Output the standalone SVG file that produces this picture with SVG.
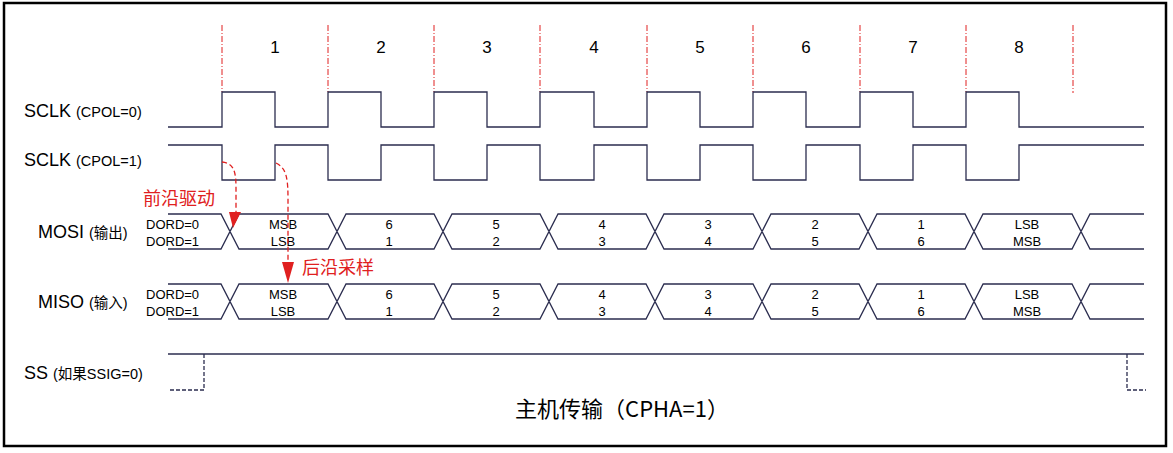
<svg xmlns="http://www.w3.org/2000/svg" width="1173" height="453" viewBox="0 0 1173 453">
<style>
.w{fill:none;stroke:#2b2d4f;stroke-width:1.3}
.g{fill:none;stroke:#e02020;stroke-width:1;stroke-dasharray:6,2,1,2}
.t{font-family:"Liberation Sans",Arial,"Noto Sans CJK SC",sans-serif;fill:#000}
.b{font-size:18px}.s{font-size:14.5px}.d{font-size:13px;text-anchor:middle}.n{font-size:17px;text-anchor:middle}
.r{font-family:"Noto Sans CJK SC",sans-serif;font-size:18px;fill:#e02020}
.ar{fill:none;stroke:#e02020;stroke-width:1.3;stroke-dasharray:5,3}
</style>
<rect x="4" y="3" width="1162" height="443" fill="#fff" stroke="#000" stroke-width="2.5"/>
<g id="grid">
<path class="g" d="M222,25V92M328,25V92M434,25V92M540,25V92M647,25V92M753,25V92M860,25V92M966,25V92M1073,25V93"/>
</g>
<g id="numbers" class="t">
<text class="n" x="275" y="53">1</text><text class="n" x="381" y="53">2</text><text class="n" x="487" y="53">3</text><text class="n" x="594" y="53">4</text><text class="n" x="700" y="53">5</text><text class="n" x="806" y="53">6</text><text class="n" x="913" y="53">7</text><text class="n" x="1019" y="53">8</text>
</g>
<g id="sclk0"><text class="t b" x="24" y="117">SCLK <tspan class="s">(CPOL=0)</tspan></text>
<path class="w" d="M168,127H222V92H275V127H328V92H381V127H434V92H487V127H540V92H594V127H647V92H700V127H753V92H806V127H860V92H913V127H966V92H1019V127H1144"/></g>
<g id="sclk1"><text class="t b" x="24" y="166">SCLK <tspan class="s">(CPOL=1)</tspan></text>
<path class="w" d="M168,145H222V180H275V145H328V180H381V145H434V180H487V145H540V180H594V145H647V180H700V145H753V180H806V145H860V180H913V145H966V180H1019V145H1144"/></g>
<g id="mosi"><text class="t b" x="38" y="238">MOSI <tspan class="s">(输出)</tspan></text>
<text class="t" font-size="13" x="146" y="229">DORD=0</text><text class="t" font-size="13" x="146" y="246">DORD=1</text>
<path class="w" d="M168,214H221L239,249H328L346,214H434L452,249H540L558,214H646L664,249H753L771,214H859L877,249H965L983,214H1072L1090,249H1144M168,249H221L239,214H328L346,249H434L452,214H540L558,249H646L664,214H753L771,249H859L877,214H965L983,249H1072L1090,214H1144"/>
<g class="t d"><text x="283" y="229">MSB</text><text x="283" y="246">LSB</text><text x="389" y="229">6</text><text x="389" y="246">1</text><text x="496" y="229">5</text><text x="496" y="246">2</text><text x="602" y="229">4</text><text x="602" y="246">3</text><text x="708" y="229">3</text><text x="708" y="246">4</text><text x="815" y="229">2</text><text x="815" y="246">5</text><text x="921" y="229">1</text><text x="921" y="246">6</text><text x="1027" y="229">LSB</text><text x="1027" y="246">MSB</text></g></g>
<g id="miso"><text class="t b" x="38" y="308">MISO <tspan class="s">(输入)</tspan></text>
<text class="t" font-size="13" x="146" y="299">DORD=0</text><text class="t" font-size="13" x="146" y="316">DORD=1</text>
<path class="w" d="M168,284H221L239,319H328L346,284H434L452,319H540L558,284H646L664,319H753L771,284H859L877,319H965L983,284H1072L1090,319H1144M168,319H221L239,284H328L346,319H434L452,284H540L558,319H646L664,284H753L771,319H859L877,284H965L983,319H1072L1090,284H1144"/>
<g class="t d"><text x="283" y="299">MSB</text><text x="283" y="316">LSB</text><text x="389" y="299">6</text><text x="389" y="316">1</text><text x="496" y="299">5</text><text x="496" y="316">2</text><text x="602" y="299">4</text><text x="602" y="316">3</text><text x="708" y="299">3</text><text x="708" y="316">4</text><text x="815" y="299">2</text><text x="815" y="316">5</text><text x="921" y="299">1</text><text x="921" y="316">6</text><text x="1027" y="299">LSB</text><text x="1027" y="316">MSB</text></g></g>
<g id="ss"><text class="t b" x="24" y="379">SS <tspan class="s">(如果SSIG=0)</tspan></text>
<path class="w" d="M168,354H1144"/>
<path class="w" stroke-dasharray="4,2" d="M204,354V390H168M1127,354V390H1146"/></g>
<g id="connectors">
<path class="ar" d="M222,162C234,163 236,172 236,188V212"/>
<path class="ar" d="M276,163C287,168 288,180 288,200V262"/>
<path d="M229,212L241,212L233,228Z" fill="#e02020"/>
<path d="M282,262L294,262L288,283Z" fill="#e02020"/>
</g>
<text class="r" x="143" y="205">前沿驱动</text>
<text class="r" x="302" y="274">后沿采样</text>
<text x="622" y="417" font-family="'Noto Sans CJK SC',sans-serif" font-size="22" text-anchor="middle">主机传输（CPHA=1）</text>
</svg>
